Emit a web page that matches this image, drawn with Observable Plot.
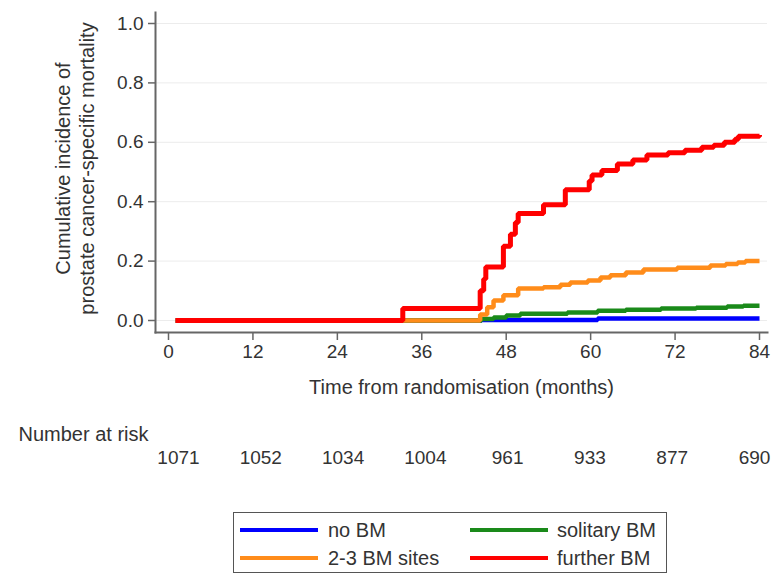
<!DOCTYPE html>
<html>
<head>
<meta charset="utf-8">
<script src="https://cdn.jsdelivr.net/npm/d3@7"></script>
<script src="https://cdn.jsdelivr.net/npm/@observablehq/plot@0.6"></script>
<style>
  body { margin: 0; background: #fff; font-family: "Liberation Sans", Arial, sans-serif; }
  #wrap { width: 776px; }
  #wrap svg { display: block; }
  #legend { position: relative; margin-left: 233px; margin-top: 7px; width: 432px; height: 59px; border: 1px solid #555; box-sizing: content-box; }
  .sw { position: absolute; width: 78px; height: 4px; }
  .lt { position: absolute; font-size: 20px; color: #333; line-height: 22px; white-space: nowrap; }
</style>
</head>
<body>
<div id="wrap"></div>
<script>
// ---- Data ----
const seriesNames  = ["no BM", "solitary BM", "2-3 BM sites", "further BM"];
const seriesColors = ["#0000ff", "#1a8a1a", "#ff8c1a", "#ff0000"];

const noBM_t = [1, 44.5, 61, 84];
const noBM_v = [0, 0.002, 0.007, 0.007];

const solitary_t = [1, 44.5, 46.2, 48, 50, 56.7, 61, 65, 70, 75, 79.4, 81.7, 84];
const solitary_v = [0, 0.005, 0.01, 0.017, 0.023, 0.027, 0.033, 0.036, 0.04, 0.043, 0.047, 0.05, 0.05];

const sites23_t = [1, 44.3, 45.3, 46.2, 47.6, 49.7, 53.3, 55.7, 57.1, 59.6, 61.4, 62.8, 65, 67.5, 72.3, 77, 79.2, 80.9, 82, 84];
const sites23_v = [0, 0.02, 0.045, 0.067, 0.085, 0.108, 0.112, 0.12, 0.128, 0.135, 0.145, 0.152, 0.162, 0.172, 0.178, 0.185, 0.19, 0.195, 0.2, 0.2];

const further_t = [1, 33.3, 44.3, 44.8, 45.1, 47.6, 48.6, 49.3, 49.7, 53.3, 56.4, 59.8, 60.2, 61.6, 63.8, 66, 68, 71, 73.4, 75.8, 77.5, 79, 80.5, 81, 84];
const further_v = [0, 0.04, 0.10, 0.14, 0.18, 0.25, 0.29, 0.33, 0.36, 0.39, 0.44, 0.47, 0.49, 0.505, 0.527, 0.54, 0.557, 0.565, 0.573, 0.583, 0.59, 0.60, 0.61, 0.62, 0.625];

const xTicks = [0, 12, 24, 36, 48, 60, 72, 84];
const yTicks = [0, 0.2, 0.4, 0.6, 0.8, 1.0];
const riskCounts = [1071, 1052, 1034, 1004, 961, 933, 877, 690];

const xTitle = "Time from randomisation (months)";
const yTitle = "Cumulative incidence of\nprostate cancer-specific mortality";
const riskLabel = "Number at risk";

// ---- Build tables ----
const seriesT = [noBM_t, solitary_t, sites23_t, further_t];
const seriesV = [noBM_v, solitary_v, sites23_v, further_v];
const rows = seriesNames.flatMap((name, i) =>
  seriesT[i].map((t, j) => ({series: name, t, v: seriesV[i][j]})));
const riskRows = xTicks.map((t, i) => ({t, n: String(riskCounts[i])}));

const FONT = "Liberation Sans, Arial, sans-serif";

const chart = Plot.plot({
  width: 776,
  height: 410,
  marginLeft: 155,
  marginRight: 9,
  marginTop: 12,
  marginBottom: 78,
  style: {fontFamily: FONT, fontSize: "19px", color: "#333", background: "#fff", overflow: "visible"},
  x: {domain: [0, 84], insetLeft: 13, insetRight: 8},
  y: {domain: [0, 1], insetTop: 11, insetBottom: 12},
  color: {domain: seriesNames, range: seriesColors},
  marks: [
    Plot.gridY(yTicks, {stroke: "#ececec", strokeOpacity: 1, strokeWidth: 1}),
    Plot.frame({anchor: "left", stroke: "#666", strokeWidth: 2}),
    Plot.frame({anchor: "bottom", stroke: "#666", strokeWidth: 2}),
    Plot.axisX(xTicks, {tickSize: 8, tickPadding: 4, stroke: "#666", strokeWidth: 1.5, fill: "#333", fontSize: 19, label: null}),
    Plot.axisY(yTicks, {tickSize: 7, tickPadding: 5, stroke: "#666", strokeWidth: 1.5, fill: "#333", fontSize: 19, tickFormat: d3.format(".1f"), label: null}),
    Plot.line(rows, {
      x: "t", y: "v", z: "series", stroke: "series",
      strokeWidth: d => d.series === "further BM" ? 5 : 4.5,
      curve: "step-after", strokeLinejoin: "miter", strokeLinecap: "butt"
    }),
    Plot.text([xTitle], {text: d => d, frameAnchor: "bottom", dy: 61, fontSize: 20, fill: "#333"}),
    Plot.text([yTitle], {text: d => d, frameAnchor: "left", textAnchor: "middle", rotate: -90, dx: -81, dy: -4, lineHeight: 1.17, fontSize: 20, fill: "#333"})
  ]
});

// Number-at-risk table (Stata places it on its own slightly narrower axis)
const risk = Plot.plot({
  width: 776,
  height: 95,
  marginLeft: 178,
  marginRight: 22,
  marginTop: 0,
  marginBottom: 0,
  style: {fontFamily: FONT, fontSize: "19px", color: "#333", background: "#fff", overflow: "visible"},
  x: {domain: [0, 84], axis: null},
  marks: [
    Plot.text([riskLabel], {text: d => d, frameAnchor: "top-left", textAnchor: "start", dx: -160, dy: 16, fontSize: 20, fill: "#333"}),
    Plot.text(riskRows, {x: "t", text: "n", frameAnchor: "top", dy: 40, fontSize: 19, fill: "#333"})
  ]
});

const wrap = document.getElementById("wrap");
wrap.appendChild(chart);
wrap.appendChild(risk);

// ---- Legend (built from the series arrays) ----
const legend = document.createElement("div");
legend.id = "legend";
const rowY = [17, 45];
const swX = [6, 236];
const txX = [94, 323];
seriesNames.forEach((name, i) => {
  const r = Math.floor(i / 2), c = i % 2;
  const sw = document.createElement("div");
  sw.className = "sw";
  sw.style.left = swX[c] + "px";
  sw.style.top = (rowY[r] - 2) + "px";
  sw.style.background = seriesColors[i];
  legend.appendChild(sw);
  const tx = document.createElement("div");
  tx.className = "lt";
  tx.style.left = txX[c] + "px";
  tx.style.top = (rowY[r] - 11) + "px";
  tx.textContent = name;
  legend.appendChild(tx);
});
wrap.appendChild(legend);
</script>
</body>
</html>
